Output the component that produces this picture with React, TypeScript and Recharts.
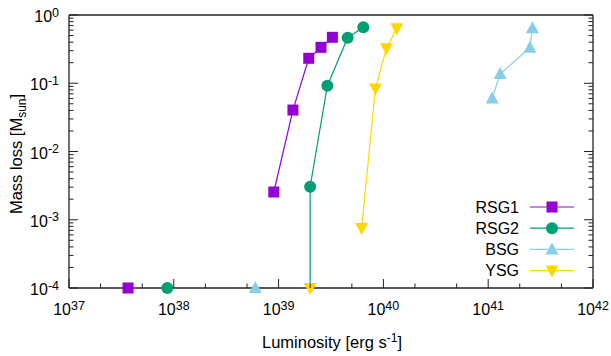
import { Line, LineChart, XAxis, YAxis } from 'recharts';

const seriesNames = ['RSG1', 'RSG2', 'BSG', 'YSG'];
const seriesColors = ['#9400d3', '#009e73', '#87ceeb', '#ffd700'];

// luminosity [erg/s] and mass loss [Msun] of the connected points
const rsg1L = [9.0e38, 1.37e39, 1.94e39, 2.54e39, 3.26e39];
const rsg1M = [2.55e-3, 0.0405, 0.232, 0.336, 0.471];
const rsg2L = [2.0e39, 2.0e39, 2.92e39, 4.56e39, 6.43e39];
const rsg2M = [5e-5, 3.05e-3, 0.092, 0.465, 0.66]; // first one is below the plot
const bsgL = [1.09e41, 1.3e41, 2.5e41, 2.64e41];
const bsgM = [0.06, 0.137, 0.332, 0.64];
const ysgL = [6.2e39, 8.4e39, 1.07e40, 1.34e40];
const ysgM = [7.6e-4, 0.084, 0.325, 0.64];

// single points sitting on the lower limit, same order as seriesNames
const floorL = [3.66e37, 8.67e37, 6.0e38, 2.0e39];

const xDecades = [1e37, 1e38, 1e39, 1e40, 1e41, 1e42];
const xMinorSteps = [2, 5];
const yDecades = [1e-4, 1e-3, 1e-2, 1e-1, 1];
const yMinorSteps = [2, 3, 4, 5, 6, 7, 8, 9];

const yMin = yDecades[0];
const axisColor = '#222';
const font = '"Liberation Sans", Arial, sans-serif';

const withMinor = (decades: number[], steps: number[]) => [
  ...decades,
  ...decades.slice(0, -1).flatMap((d) => steps.map((s) => d * s)),
];
const xTicks = withMinor(xDecades, xMinorSteps);
const yTicks = withMinor(yDecades, yMinorSteps);

const toPoints = (L: number[], M: number[]) =>
  L.map((x, i) => ({ x, y: Math.max(M[i], yMin), off: M[i] < yMin }));

const series = [
  toPoints(rsg1L, rsg1M),
  toPoints(rsg2L, rsg2M),
  toPoints(bsgL, bsgM),
  toPoints(ysgL, ysgM),
];
const floors = floorL.map((x) => [{ x, y: yMin, off: false }]);

const exp = (v: number) => Math.round(Math.log10(v));

function Marker({ kind, color, cx, cy }: { kind: number; color: string; cx: number; cy: number }) {
  if (kind === 0) return <rect x={cx - 5.5} y={cy - 5.5} width={11} height={11} fill={color} />;
  if (kind === 1) return <circle cx={cx} cy={cy} r={6} fill={color} />;
  if (kind === 2)
    return <polygon points={`${cx},${cy - 7} ${cx - 6.5},${cy + 5} ${cx + 6.5},${cy + 5}`} fill={color} />;
  return <polygon points={`${cx},${cy + 7} ${cx - 6.5},${cy - 5} ${cx + 6.5},${cy - 5}`} fill={color} />;
}

const dotFor = (kind: number) => (p: any) =>
  p.payload.off || p.cx == null ? (
    <g key={`d${p.index}`} />
  ) : (
    <Marker key={`d${p.index}`} kind={kind} color={seriesColors[kind]} cx={p.cx} cy={p.cy} />
  );

const BottomTick = ({ x, y, payload }: any) => {
  const major = xDecades.includes(payload.value);
  return (
    <g>
      <line x1={x} y1={y} x2={x} y2={y - (major ? 9 : 4.5)} stroke={axisColor} />
      {major && (
        <text x={x} y={y + 27} textAnchor="middle" fontSize={16} fontFamily={font} fill="#000">
          10<tspan dy={-5.5} fontSize={12.5}>{exp(payload.value)}</tspan>
        </text>
      )}
    </g>
  );
};

const TopTick = ({ x, y, payload }: any) => {
  const major = xDecades.includes(payload.value);
  return <line x1={x} y1={y} x2={x} y2={y + (major ? 9 : 4.5)} stroke={axisColor} />;
};

const LeftTick = ({ x, y, payload }: any) => {
  const major = yDecades.includes(payload.value);
  return (
    <g>
      <line x1={x} y1={y} x2={x + (major ? 9 : 4.5)} y2={y} stroke={axisColor} />
      {major && (
        <text x={x - 10} y={y + 7} textAnchor="end" fontSize={16} fontFamily={font} fill="#000">
          10<tspan dy={-5.5} fontSize={12.5}>{exp(payload.value)}</tspan>
        </text>
      )}
    </g>
  );
};

const RightTick = ({ x, y, payload }: any) => {
  const major = yDecades.includes(payload.value);
  return <line x1={x} y1={y} x2={x - (major ? 9 : 4.5)} y2={y} stroke={axisColor} />;
};

export default function App() {
  return (
    <div style={{ position: 'absolute', left: 0, top: 0, width: 611, height: 356, background: '#fff' }}>
      <LineChart width={611} height={356} margin={{ top: 0, right: 0, bottom: 0, left: 0 }}>
        <XAxis
          dataKey="x"
          type="number"
          scale="log"
          domain={[1e37, 1e42]}
          ticks={xTicks}
          interval={0}
          height={68}
          tickSize={0}
          tickMargin={0}
          tickLine={false}
          tick={<BottomTick />}
          axisLine={{ stroke: axisColor, strokeWidth: 1.3 }}
        />
        <XAxis
          xAxisId="top"
          orientation="top"
          type="number"
          scale="log"
          domain={[1e37, 1e42]}
          allowDataOverflow
          ticks={xTicks}
          interval={0}
          height={15}
          tickSize={0}
          tickMargin={0}
          tickLine={false}
          tick={<TopTick />}
          axisLine={{ stroke: axisColor, strokeWidth: 1.3 }}
        />
        <YAxis
          type="number"
          scale="log"
          domain={[1e-4, 1]}
          ticks={yTicks}
          interval={0}
          width={69}
          tickSize={0}
          tickMargin={0}
          tickLine={false}
          tick={<LeftTick />}
          axisLine={{ stroke: axisColor, strokeWidth: 1.3 }}
        />
        <YAxis
          yAxisId="right"
          orientation="right"
          type="number"
          scale="log"
          domain={[1e-4, 1]}
          allowDataOverflow
          ticks={yTicks}
          interval={0}
          width={18}
          tickSize={0}
          tickMargin={0}
          tickLine={false}
          tick={<RightTick />}
          axisLine={{ stroke: axisColor, strokeWidth: 1.3 }}
        />
        {series.map((pts, i) => (
          <Line
            key={seriesNames[i]}
            data={pts}
            dataKey="y"
            stroke={seriesColors[i]}
            strokeWidth={1.2}
            dot={dotFor(i)}
            activeDot={false}
            isAnimationActive={false}
          />
        ))}
        {floors.map((pts, i) => (
          <Line
            key={`${seriesNames[i]}-floor`}
            data={pts}
            dataKey="y"
            stroke="none"
            dot={dotFor(i)}
            activeDot={false}
            isAnimationActive={false}
          />
        ))}
      </LineChart>
      <svg
        width={611}
        height={356}
        style={{ position: 'absolute', left: 0, top: 0, pointerEvents: 'none' }}
        fontFamily={font}
      >
        <text x={332} y={348} textAnchor="middle" fontSize={16.5} fill="#000">
          Luminosity [erg s<tspan dy={-6} fontSize={12}>-1</tspan>
          <tspan dy={6}>]</tspan>
        </text>
        <text x={22} y={154} transform="rotate(-90 22 154)" textAnchor="middle" fontSize={16.5} fill="#000">
          Mass loss [M<tspan dy={4} fontSize={12}>sun</tspan>
          <tspan dy={-4}>]</tspan>
        </text>
        {seriesNames.map((name, i) => {
          const cy = 207 + i * 21.2;
          return (
            <g key={name}>
              <text x={519} y={cy + 5.5} textAnchor="end" fontSize={16} fill="#000">
                {name}
              </text>
              <line x1={530} y1={cy} x2={574} y2={cy} stroke={seriesColors[i]} strokeWidth={1.2} />
              <Marker kind={i} color={seriesColors[i]} cx={552} cy={cy} />
            </g>
          );
        })}
      </svg>
    </div>
  );
}
